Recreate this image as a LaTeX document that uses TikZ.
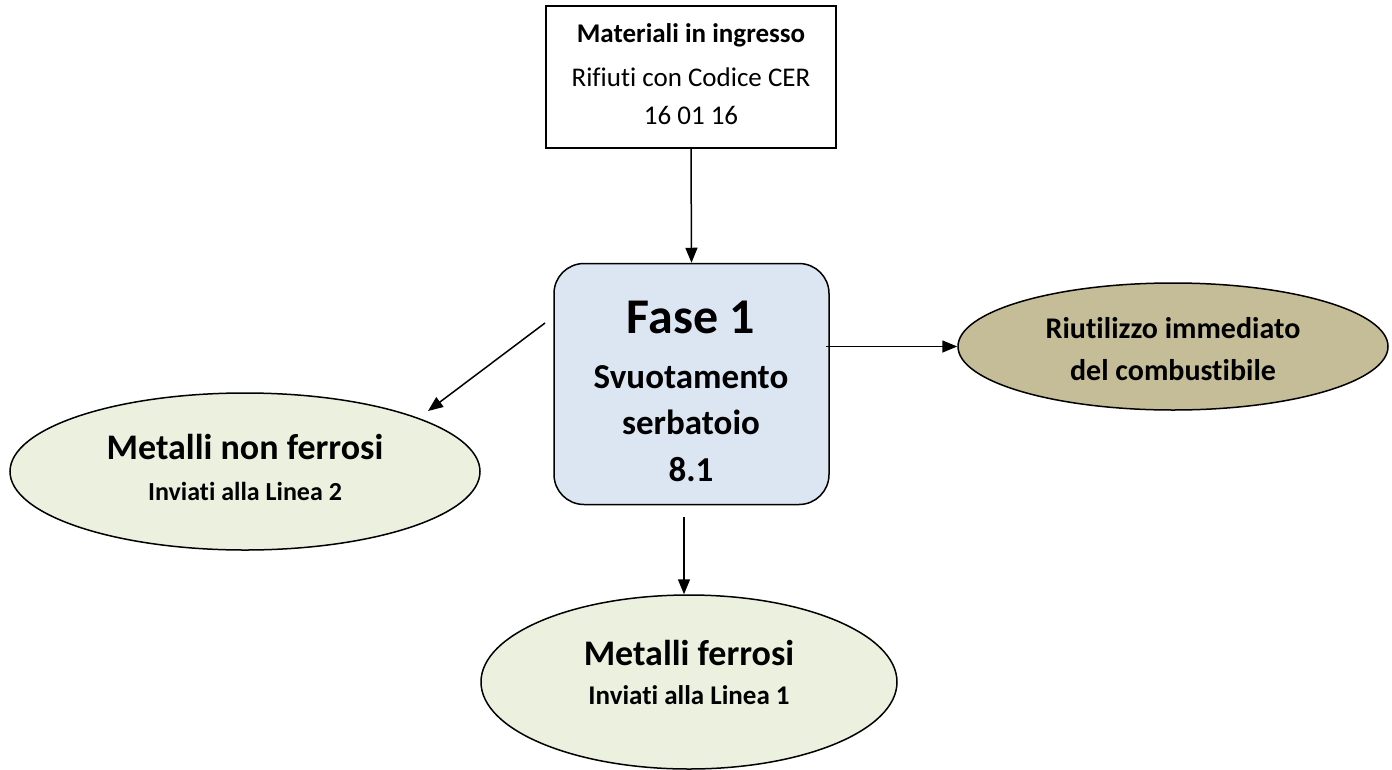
\documentclass[tikz,border=0pt]{standalone}
\usepackage{fontspec}
\setmainfont{Carlito}[Ligatures=NoCommon]
\usetikzlibrary{shapes.geometric,arrows.meta}
\definecolor{boxblue}{HTML}{DCE6F2}
\definecolor{olive}{HTML}{C4BD97}
\definecolor{palegreen}{HTML}{EBF1DE}
\begin{document}
\begin{tikzpicture}[x=1pt,y=-1pt,
  shapeline/.style={draw=black,line width=1.5pt},
  inbox/.style={shapeline,rectangle,fill=white,minimum width=290pt,minimum height=142pt,inner sep=0pt},
  phasebox/.style={shapeline,rectangle,rounded corners=30pt,fill=boxblue,minimum width=275pt,minimum height=241pt,inner sep=0pt},
  outell/.style={shapeline,ellipse,inner sep=0pt},
  txt/.style={anchor=base,inner sep=0pt},
  conn/.style={line width=1.5pt,-{Triangle[length=15pt,width=12pt]}}]
\useasboundingbox (0,0) rectangle (1392,769);
% shapes
\node[inbox] (input) at (691,77) {};
\node[phasebox] (fase) at (691.5,384) {};
\node[outell,fill=olive,minimum width=430pt,minimum height=127pt] (riuso) at (1173,346.5) {};
\node[outell,fill=palegreen,minimum width=470pt,minimum height=157pt] (nonferr) at (245,471.5) {};
\node[outell,fill=palegreen,minimum width=416pt,minimum height=174pt] (ferr) at (689,682) {};
% texts
\node[txt,font=\fontsize{27}{32}\selectfont\bfseries] (t1) at (691,42) {Materiali in ingresso};
\node[txt,font=\fontsize{27}{32}\selectfont] (t2) at (691,86) {Rifiuti con Codice CER};
\node[txt,font=\fontsize{27}{32}\selectfont] (t3) at (691,124) {16 01 16};
\node[txt,font=\fontsize{50}{60}\selectfont\bfseries] (f1) at (691,333) {Fase 1};
\node[txt,font=\fontsize{35}{42}\selectfont\bfseries] (f2) at (691,388) {Svuotamento};
\node[txt,font=\fontsize{35}{42}\selectfont\bfseries] (f3) at (691,434) {serbatoio};
\node[txt,font=\fontsize{35}{42}\selectfont\bfseries] (f4) at (691,481) {8.1};
\node[txt,font=\fontsize{30}{36}\selectfont\bfseries] (r1) at (1173,338) {Riutilizzo immediato};
\node[txt,font=\fontsize{30}{36}\selectfont\bfseries] (r2) at (1173,380) {del combustibile};
\node[txt,font=\fontsize{36}{43}\selectfont\bfseries] (n1) at (245,459) {Metalli non ferrosi};
\node[txt,font=\fontsize{26}{31}\selectfont\bfseries] (n2) at (245,500) {Inviati alla Linea 2};
\node[txt,font=\fontsize{36}{43}\selectfont\bfseries] (m1) at (689,665) {Metalli ferrosi};
\node[txt,font=\fontsize{27}{32}\selectfont\bfseries] (m2) at (689,704) {Inviati alla Linea 1};
% connector start points
\coordinate (sl) at (545,323);
\coordinate (sr) at (826,346.5);
\coordinate (sb) at (684,517);
% connectors
\draw[conn] (input.south) -- (fase.north);
\draw[conn] (sl) -- (428,411) coordinate (el);
\draw[conn] (sr) -- (riuso.west);
\draw[conn] (sb) -- (sb |- ferr.north);
\end{tikzpicture}
\end{document}
